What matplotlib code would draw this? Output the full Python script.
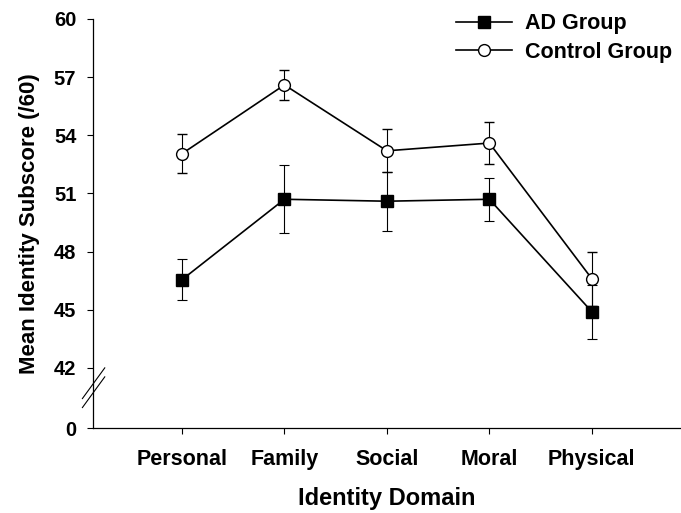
import numpy as np
import matplotlib
matplotlib.use('Agg')
import matplotlib.pyplot as plt

domains = ['Personal', 'Family', 'Social', 'Moral', 'Physical']
ad_mean = [46.55, 50.7, 50.6, 50.7, 44.9]
ad_err = [1.07, 1.76, 1.53, 1.1, 1.4]
ctrl_mean = [53.05, 56.6, 53.2, 53.6, 46.6]
ctrl_err = [1.0, 0.78, 1.1, 1.07, 1.4]

yticks = [42, 45, 48, 51, 54, 57, 60]
zero_pos = 38.9  # where "0" sits below the axis break

plt.rcParams['font.family'] = ['Liberation Sans', 'DejaVu Sans']
plt.rcParams['font.weight'] = 'bold'


def main():
    fig = plt.figure(figsize=(6.81, 5.13), dpi=100)
    ax = fig.add_axes([93/681, 1-428/513, 1-93/681, (428-19)/513])
    x = np.arange(len(domains))

    eb_c = ax.errorbar(x, ctrl_mean, yerr=ctrl_err, color='black', lw=1.2,
                       marker='o', ms=8.5, mfc='white', mec='black', mew=1.0,
                       ecolor='black', elinewidth=0.8, capsize=3.5, capthick=0.8,
                       zorder=3)
    eb_a = ax.errorbar(x, ad_mean, yerr=ad_err, color='black', lw=1.2,
                       marker='s', ms=8, mfc='black', mec='black',
                       ecolor='black', elinewidth=0.8, capsize=3.5, capthick=0.8,
                       zorder=4)

    ax.set_xlim(-0.868, 4.87)
    ax.set_ylim(zero_pos, 60)
    ax.set_yticks([zero_pos] + yticks)
    ax.set_yticklabels(['0'] + [str(v) for v in yticks])
    ax.set_xticks(x)
    ax.set_xticklabels(domains)

    for s in ['top', 'right']:
        ax.spines[s].set_visible(False)
    for s in ['left', 'bottom']:
        ax.spines[s].set_linewidth(0.9)
    ax.tick_params(axis='both', direction='out', length=4, width=0.8)
    ax.tick_params(axis='y', pad=8, labelsize=14.5)
    ax.tick_params(axis='x', pad=11, labelsize=15.5)

    # axis break marks
    d = dict(transform=ax.transAxes, color='black', lw=0.8, clip_on=False)
    for off in [0.0, 0.022]:
        ax.plot([-0.018, 0.02], [0.05 + off, 0.125 + off], **d)

    ax.set_xlabel('Identity Domain', fontsize=17, fontweight='bold', labelpad=12)
    ax.set_ylabel('Mean Identity Subscore (/60)', fontsize=16, fontweight='bold',
                  labelpad=10)

    ax.legend([eb_a[0], eb_c[0]], ['AD Group', 'Control Group'],
              loc='upper right', frameon=False, fontsize=15.5,
              handlelength=2.6, handletextpad=0.6, borderaxespad=0.0,
              bbox_to_anchor=(1.0, 1.035), labelspacing=0.35)

    fig.savefig('out.png', dpi=100)


if __name__ == '__main__':
    main()
